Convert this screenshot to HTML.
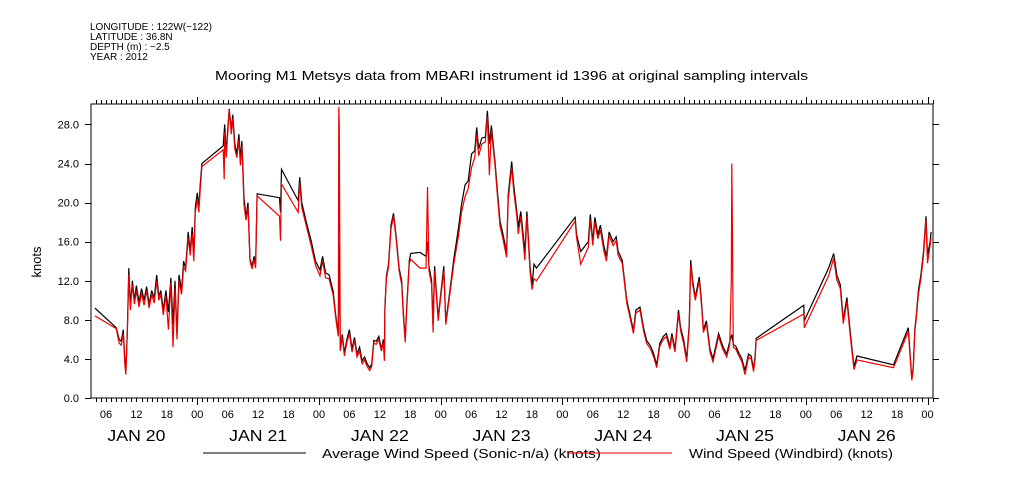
<!DOCTYPE html>
<html><head><meta charset="utf-8">
<style>
html,body{margin:0;padding:0;background:#fff;}
svg{display:block;font-family:"Liberation Sans",sans-serif;}
</style></head>
<body>
<svg id="chart" width="1009" height="504" viewBox="0 0 1009 504" xmlns="http://www.w3.org/2000/svg">
<g font-size="10" fill="#000">
<text x="90" y="30">LONGITUDE : 122W(−122)</text>
<text x="90" y="40">LATITUDE : 36.8N</text>
<text x="90" y="50">DEPTH (m) : −2.5</text>
<text x="90" y="60">YEAR : 2012</text>
</g>
<text x="215" y="80" font-size="13" textLength="593" lengthAdjust="spacingAndGlyphs">Mooring M1 Metsys data from MBARI instrument id 1396 at original sampling intervals</text>
<text transform="translate(41,262) rotate(-90)" font-size="13" text-anchor="middle">knots</text>
<g id="axes"></g>
<g id="series"></g>
<g font-size="13">
<line x1="203" y1="453" x2="306" y2="453" stroke="#000" stroke-width="1"/>
<text x="322" y="458" textLength="279" lengthAdjust="spacingAndGlyphs">Average Wind Speed (Sonic-n/a) (knots)</text>
<line x1="568" y1="453" x2="672" y2="453" stroke="#e00" stroke-width="1"/>
<text x="689" y="458" textLength="204" lengthAdjust="spacingAndGlyphs">Wind Speed (Windbird) (knots)</text>
</g>
</svg>
<script>
// hours since Jan 20 00:00
const yTicks=[0,4,8,12,16,20,24,28];
const yTickLabels=["0.0","4.0","8.0","12.0","16.0","20.0","24.0","28.0"];
const dayLabels=["JAN 20","JAN 21","JAN 22","JAN 23","JAN 24","JAN 25","JAN 26"];
const hourLabels=["00","06","12","18"];
const blackH=[3.8,8.0,8.6,9.0,9.4,9.7,9.9,10.2,10.5,10.8,11.2,11.6,12.0,12.5,13.0,13.5,14.0,14.5,15.0,15.5,16.0,16.4,16.8,17.3,17.8,18.3,18.8,19.2,19.6,20.0,20.4,20.9,21.3,21.7,22.2,22.6,23.0,23.3,23.6,24.0,24.3,24.6,24.9,29.1,29.4,29.7,30.0,30.3,30.7,31.0,31.4,31.8,32.2,32.5,32.8,33.2,33.6,34.0,34.4,34.8,35.2,35.5,35.8,40.2,40.4,40.6,43.9,44.2,44.6,45.5,46.5,47.3,48.2,48.7,49.3,50.0,50.8,51.3,51.8,52.0,52.2,52.6,53.0,53.5,54.0,54.5,55.0,55.5,56.0,56.5,57.0,57.5,58.0,58.4,58.8,59.3,59.8,60.3,60.7,60.9,61.0,61.3,61.7,62.2,62.7,63.2,63.8,64.3,64.6,65.0,65.3,65.8,66.1,67.9,69.1,69.4,69.7,70.2,70.5,70.8,71.5,72.0,72.6,73.0,73.8,74.6,75.5,76.1,76.8,77.4,78.1,78.7,79.1,79.5,80.1,80.8,81.2,81.6,82.0,82.7,83.2,83.7,84.3,85.0,85.3,86.0,86.4,87.0,87.3,87.8,88.6,89.0,89.6,90.0,90.4,90.9,98.5,98.8,99.6,101.1,101.5,102.0,102.4,103.0,103.5,104.2,104.7,105.2,106.0,106.6,107.0,107.8,108.7,109.3,110.0,110.5,111.3,112.0,112.6,113.4,114.0,114.6,115.2,115.9,116.5,117.2,117.6,118.2,118.9,119.3,119.9,120.5,121.0,121.3,121.7,122.2,123.0,123.4,123.8,124.4,125.1,125.7,126.8,127.6,128.4,129.0,129.4,129.7,130.2,130.8,131.4,132.0,132.7,133.2,133.7,134.0,134.2,143.6,143.7,148.5,149.5,150.1,150.8,151.4,152.1,152.8,153.5,154.1,161.3,164.2,164.9,165.2,165.5,165.8,166.2,166.7,167.2,167.7,168.0,168.5,168.7];
const blackV=[9.2,7.2,6.0,5.8,7.0,4.0,2.6,6.8,13.3,9.5,12.0,10.0,11.5,9.8,11.2,10.0,11.4,9.6,11.0,10.2,12.6,10.4,11.0,9.0,11.0,8.8,12.3,7.5,12.0,6.5,12.6,11.0,14.0,13.3,17.0,15.0,17.5,14.5,19.5,21.0,19.5,22.0,24.0,25.8,28.0,25.0,27.5,29.6,27.5,29.0,26.0,25.0,27.0,24.5,26.3,20.5,18.5,20.0,14.2,13.5,14.5,13.6,20.9,20.5,19.0,23.4,20.2,22.6,20.0,18.0,16.0,14.0,13.1,14.5,12.8,12.6,10.9,8.5,6.5,15.7,5.0,6.5,4.6,6.0,7.0,5.0,6.2,4.5,5.2,3.8,4.2,3.5,3.1,3.5,5.9,5.8,6.3,5.0,6.0,4.0,9.3,12.5,13.7,17.7,18.9,16.6,13.3,12.0,9.0,6.0,9.3,14.1,14.8,14.9,14.5,16.0,13.5,12.0,7.5,13.5,8.2,10.6,13.5,7.8,10.9,14.3,17.4,19.8,21.8,22.2,25.0,25.3,27.7,25.5,26.6,26.7,29.4,26.0,27.9,24.2,21.1,18.1,16.7,14.9,20.8,24.2,21.8,19.1,17.5,19.1,15.0,19.1,13.5,11.5,13.7,13.3,18.5,16.7,15.0,16.0,18.8,16.0,18.5,16.7,17.7,15.5,14.5,17.0,16.0,16.5,15.0,14.1,10.0,8.6,6.9,9.0,9.3,7.2,5.9,5.3,4.5,3.4,5.6,6.3,6.6,5.3,6.6,5.0,9.0,7.2,6.0,4.0,7.5,14.1,12.0,10.3,12.4,10.0,7.0,7.9,5.0,4.0,6.6,5.3,4.5,5.8,6.5,5.5,5.3,4.6,4.0,2.8,4.5,4.3,3.0,4.3,6.1,9.5,7.9,13.3,14.8,12.6,11.6,8.0,10.3,6.6,3.2,4.3,3.4,7.2,2.0,3.2,7.0,8.6,11.0,12.6,15.0,18.6,14.6,16.0,17.0];
const redH=[3.8,8.0,8.6,9.0,9.4,9.7,9.9,10.2,10.5,10.8,11.2,11.6,12.0,12.5,13.0,13.5,14.0,14.5,15.0,15.5,16.0,16.4,16.8,17.3,17.8,18.3,18.8,19.2,19.6,20.0,20.4,20.9,21.3,21.7,22.2,22.6,23.0,23.3,23.6,24.0,24.3,24.6,24.9,29.1,29.3,29.4,29.7,30.0,30.3,30.7,31.0,31.4,31.8,32.2,32.5,32.8,33.2,33.6,34.0,34.4,34.8,35.2,35.5,35.8,40.2,40.4,40.6,43.9,44.2,44.6,45.5,46.5,47.3,48.2,48.7,49.3,50.0,50.8,51.3,51.8,51.9,52.0,52.1,52.2,52.6,53.0,53.5,54.0,54.5,55.0,55.5,56.0,56.5,57.0,57.5,58.0,58.4,58.8,59.3,59.8,60.3,60.7,60.9,61.0,61.3,61.7,62.2,62.7,63.2,63.8,64.3,64.6,65.0,65.3,65.8,66.1,67.9,69.1,69.4,69.7,70.2,70.5,70.8,71.5,72.0,72.6,73.0,73.8,74.6,75.5,76.1,76.8,77.4,78.1,78.7,79.1,79.5,80.1,80.8,81.2,81.6,82.0,82.7,83.2,83.7,84.3,85.0,85.3,86.0,86.4,87.0,87.3,87.8,88.6,89.0,89.6,90.0,90.4,90.9,98.5,98.8,99.6,101.1,101.5,102.0,102.4,103.0,103.5,104.2,104.7,105.2,106.0,106.6,107.0,107.8,108.7,109.3,110.0,110.5,111.3,112.0,112.6,113.4,114.0,114.6,115.2,115.9,116.5,117.2,117.6,118.2,118.9,119.3,119.9,120.5,121.0,121.3,121.7,122.2,123.0,123.4,123.8,124.4,125.1,125.7,126.8,127.6,128.4,129.0,129.3,129.4,129.5,129.7,130.2,130.8,131.4,132.0,132.7,133.2,133.7,134.0,134.2,143.6,143.7,148.5,149.5,150.1,150.8,151.4,152.1,152.8,153.5,154.1,161.3,164.2,164.9,165.2,165.5,165.8,166.2,166.7,167.2,167.7,168.0,168.5,168.7];
const redV=[8.4,7.1,5.6,5.4,6.6,3.5,2.4,6.5,12.6,9.0,11.6,9.6,11.0,9.3,10.7,9.5,11.0,9.2,10.6,9.7,12.0,10.0,10.6,8.5,10.5,7.0,11.8,5.2,11.2,6.0,12.0,10.6,13.4,13.0,16.4,14.6,16.8,14.0,19.0,20.4,19.0,21.4,23.7,25.4,22.4,27.2,24.6,27.0,29.5,27.0,28.6,25.5,24.6,26.4,23.8,25.8,19.8,18.2,19.5,14.0,13.2,14.2,13.3,20.7,18.6,16.1,21.9,19.0,22.0,19.5,17.6,15.5,13.6,12.5,14.0,12.3,12.2,10.5,8.2,6.3,29.8,28.0,16.0,4.8,6.2,4.3,5.7,6.6,4.7,5.9,4.2,4.8,3.5,3.9,3.2,2.8,3.2,5.6,5.5,6.0,4.8,5.7,3.8,9.0,12.2,13.4,17.3,18.6,16.3,13.0,11.6,8.6,5.7,9.0,13.8,14.2,13.3,13.3,21.6,13.0,11.6,6.7,13.0,7.9,10.3,13.0,7.5,10.6,13.8,16.6,19.0,20.6,21.4,23.6,24.6,27.0,24.8,26.0,26.2,28.8,22.8,27.4,23.8,20.6,17.6,16.2,14.4,20.3,23.6,21.2,18.6,16.8,18.6,14.1,18.6,13.0,11.1,12.2,12.0,18.1,16.4,13.7,15.4,18.2,15.6,18.0,16.3,17.2,15.0,14.0,16.6,15.6,16.1,14.6,13.8,9.7,8.3,6.6,8.7,9.0,6.9,5.6,5.0,4.2,3.1,5.3,6.0,6.3,5.0,6.3,4.7,8.6,6.9,5.6,3.7,7.1,13.6,11.6,10.0,12.0,9.6,6.7,7.6,4.7,3.7,6.3,5.0,4.2,5.5,12.0,24.0,18.6,5.2,5.0,4.3,3.7,2.4,4.2,4.0,2.7,4.0,5.9,8.6,7.2,12.5,14.3,12.1,11.2,7.6,9.9,6.2,2.9,3.9,3.1,6.8,1.8,3.0,6.7,8.3,10.6,12.2,14.6,18.2,13.8,15.6,16.4];

const L=91,R=933,T=104,B=398;
const x0h=24, x0px=197.3, pxPerH=5.071;
function xs(h){return x0px+(h-x0h)*pxPerH;}
function ys(v){return B-v*9.77;}
const hMin=(L-x0px)/pxPerH+x0h, hMax=(R-x0px)/pxPerH+x0h;
const NS="http://www.w3.org/2000/svg";
function mk(tag,attrs,parent){const e=document.createElementNS(NS,tag);for(const k in attrs)e.setAttribute(k,attrs[k]);parent.appendChild(e);return e;}
const axes=document.getElementById('axes');
const frame=mk('rect',{x:L,y:T,width:R-L,height:B-T,fill:'none',stroke:'#000','stroke-width':1},axes);


let d='';
for(let h=Math.ceil(hMin);h<=hMax;h++){
  const x=Math.round(xs(h))+0.5;
  const len=(h%24===0)?7:4;
  d+=`M${x},${B}v${len}M${x},${T}v${-len}`;
}
for(let i=0;i<yTicks.length;i++){
  const y=Math.round(ys(yTicks[i]))+0.5;
  d+=`M${L},${y}h-6M${R},${y}h6`;
}
const tp=mk('path',{d:d,stroke:'#000','stroke-width':1,fill:'none'},axes);


for(let i=0;i<yTicks.length;i++){
  const t=mk('text',{x:79,y:ys(yTicks[i])+4,'font-size':11,'text-anchor':'end'},axes);
  t.textContent=yTickLabels[i];
  
  
}
for(let h=Math.ceil(hMin/6)*6;h<=hMax;h+=6){
  const t=mk('text',{x:xs(h),y:418,'font-size':11,'text-anchor':'middle'},axes);
  t.textContent=hourLabels[(h%24)/6];
  
  
}
for(let i=0;i<dayLabels.length;i++){
  const t=mk('text',{x:xs(i*24+12)-29,y:441,'font-size':16,textLength:58,lengthAdjust:'spacingAndGlyphs'},axes);
  t.textContent=dayLabels[i];
  
  
}
const ser=document.getElementById('series');
function line(H,V,color,name){
  let p='';
  for(let i=0;i<H.length;i++)p+=(i?'L':'M')+xs(H[i]).toFixed(1)+','+ys(V[i]).toFixed(1);
  const e=mk('path',{d:p,stroke:color,'stroke-width':1.2,fill:'none','stroke-linejoin':'miter'},ser);
  
  
}
line(blackH,blackV,'#000','series-average-wind-speed');
line(redH,redV,'#e00','series-windbird-wind-speed');
</script>
</body></html>
